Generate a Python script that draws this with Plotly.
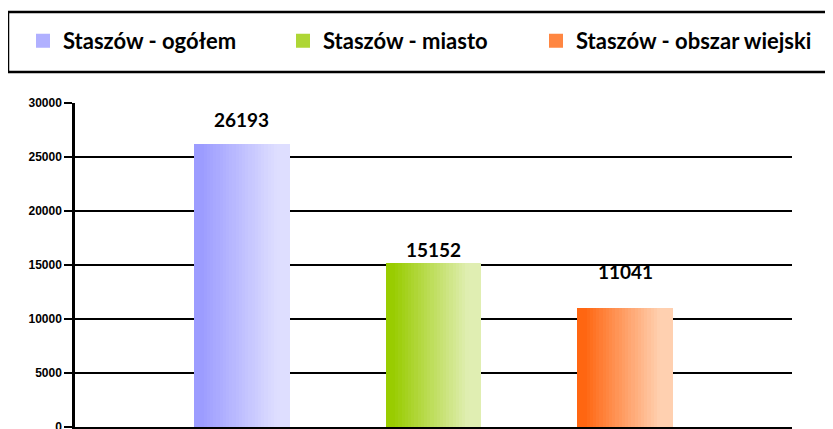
import plotly.graph_objects as go

# ---- data ----
series_names = ["Staszów - ogółem", "Staszów - miasto", "Staszów - obszar wiejski"]
values = [26193, 15152, 11041]
y_ticks = [0, 5000, 10000, 15000, 20000, 25000, 30000]
y_tick_labels = ["0", "5000", "10000", "15000", "20000", "25000", "30000"]

# ---- style ----
grad_left = [(0x9C, 0x9C, 0xFF), (0x99, 0xCC, 0x00), (0xFF, 0x66, 0x11)]
grad_right = [(0xDE, 0xDE, 0xFF), (0xE0, 0xEE, 0xB2), (0xFF, 0xD0, 0xB0)]
label_shift = [25, 14, 36]
legend_px = [15, 275, 528]   # left edge of each legend box (figure px)
N_SLICES = 30
BAR_W = 0.50

# page body has an 8px margin: figure sized to fit the 833x429 window
W, H = 825, 421
ML, MR, MT, MB = 67, 41, 95, 2
PW = W - ML - MR
PH = H - MT - MB


def mix(c1, c2, t):
    return "rgb(%d,%d,%d)" % tuple(round(a + (b - a) * t) for a, b in zip(c1, c2))


fig = go.Figure()
sw = BAR_W / N_SLICES
legend_ids = ["legend", "legend2", "legend3"]
for i, (name, v) in enumerate(zip(series_names, values)):
    for k in range(N_SLICES):
        p = (k + 0.5) / N_SLICES
        t = min(1.0, max(0.0, (p - 0.08) / 0.78))
        width = sw * 1.6 if k < N_SLICES - 1 else sw
        fig.add_trace(go.Bar(
            x=[i], y=[v], width=[width], offset=-BAR_W / 2 + k * sw,
            marker=dict(color=mix(grad_left[i], grad_right[i], t), line=dict(width=0)),
            name=name, legendgroup=name, showlegend=False,
            hoverinfo="skip",
        ))
    # legend entry (no data of its own)
    legc = mix(grad_left[i], grad_right[i], 0.3)
    fig.add_trace(go.Bar(
        x=[None], y=[None], name=name, legendgroup=name, showlegend=True,
        legend=legend_ids[i],
        marker=dict(color=legc, line=dict(color=legc, width=3)),
        hoverinfo="skip",
    ))
    fig.add_annotation(x=i, y=v, text="<b>%d</b>" % v, showarrow=False,
                       yshift=label_shift[i], font=dict(family="Lato", size=19, color="black"))

# legend frame
fig.add_shape(type="rect", xref="paper", yref="paper",
              x0=(0 - ML) / PW, x1=(840 - ML) / PW,
              y0=(H - MB - 64) / PH, y1=(H - MB - 4) / PH,
              line=dict(color="black", width=2.5), fillcolor="rgba(0,0,0,0)")

leg_common = dict(orientation="h", xanchor="left", yanchor="middle",
                  y=(H - MB - 33) / PH,
                  font=dict(family="Lato", size=22, color="black", weight="bold"),
                  bgcolor="rgba(0,0,0,0)", borderwidth=0, itemsizing="constant")

fig.update_layout(
    width=W, height=H,
    margin=dict(l=ML, r=MR, t=MT, b=MB, autoexpand=False),
    paper_bgcolor="white", plot_bgcolor="white",
    barmode="overlay", bargap=0,
    showlegend=True,
    legend=dict(x=(legend_px[0] - ML) / PW, **leg_common),
    legend2=dict(x=(legend_px[1] - ML) / PW, **leg_common),
    legend3=dict(x=(legend_px[2] - ML) / PW, **leg_common),
    xaxis=dict(range=[-0.872, 2.872], showticklabels=False, showgrid=False,
               zeroline=False, showline=True, linecolor="black", linewidth=3,
               ticks="", fixedrange=True),
    yaxis=dict(range=[0, 30000], tickvals=y_ticks, ticktext=y_tick_labels,
               showgrid=True, gridcolor="black", gridwidth=2,
               zeroline=False, showline=True, linecolor="black", linewidth=2.5,
               ticks="outside", ticklen=8, tickwidth=2, tickcolor="black",
               ticklabeloverflow="allow",
               tickfont=dict(family="Liberation Sans", size=12, color="black", weight="bold"),
               fixedrange=True),
)

fig.write_html("out.html")
